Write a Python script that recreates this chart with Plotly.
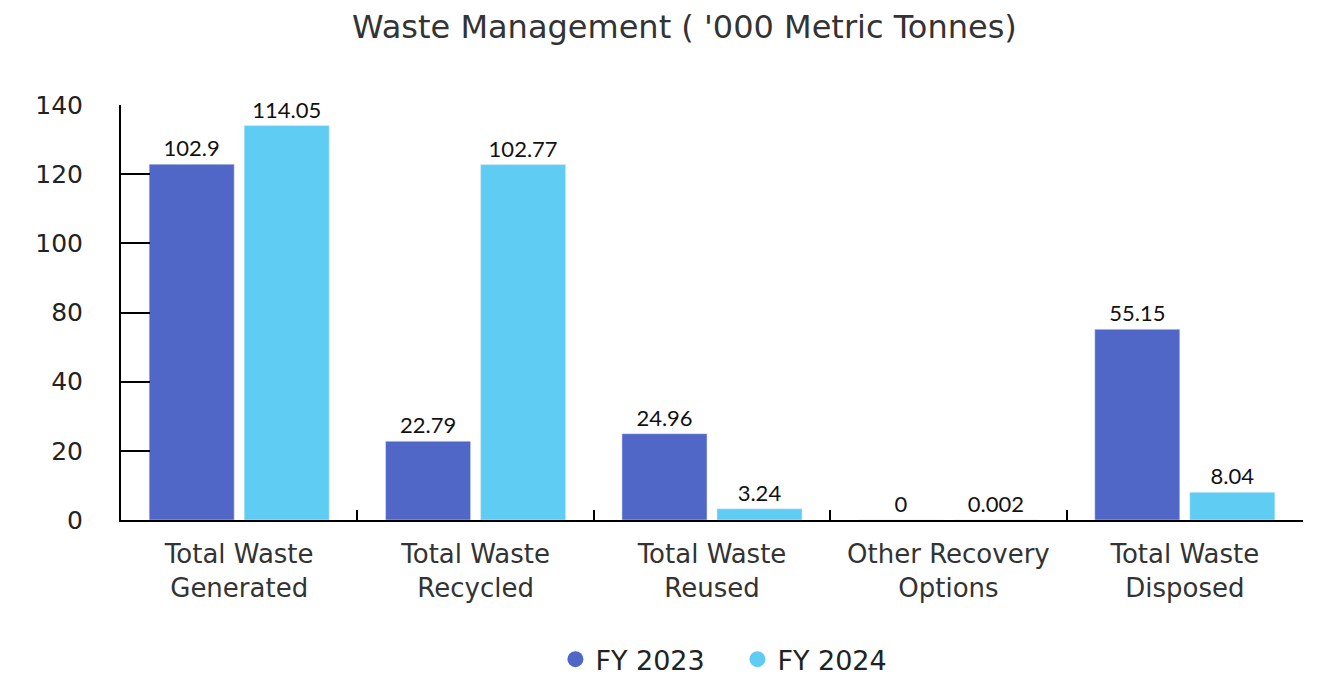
import plotly.graph_objects as go

categories = ["Total Waste<br>Generated", "Total Waste<br>Recycled", "Total Waste<br>Reused",
              "Other Recovery<br>Options", "Total Waste<br>Disposed"]
fy2023 = [102.9, 22.79, 24.96, 0, 55.15]
fy2024 = [114.05, 102.77, 3.24, 0.002, 8.04]
labels2023 = ["102.9", "22.79", "24.96", "0", "55.15"]
labels2024 = ["114.05", "102.77", "3.24", "0.002", "8.04"]
tick_vals = [0, 20, 40, 60, 80, 100, 120]
tick_text = ["0", "20", "40", "80", "100", "120", "140"]

c23 = "#5067C8"
c24 = "#5FCDF3"
main_font = "DejaVu Sans, Open Sans, sans-serif"
lab_font = dict(family="Lato, Open Sans, sans-serif", size=22, color="#111111")

fig = go.Figure()
fig.add_trace(go.Bar(name="FY 2023", x=categories, y=fy2023, text=labels2023,
                     textposition="outside", textfont=lab_font, marker_color=c23,
                     cliponaxis=False, showlegend=False))
fig.add_trace(go.Bar(name="FY 2024", x=categories, y=fy2024, text=labels2024,
                     textposition="outside", textfont=lab_font, marker_color=c24,
                     cliponaxis=False, showlegend=False))
# legend entries with round markers
fig.add_trace(go.Scatter(name="FY 2023", x=[None], y=[None], mode="markers",
                         marker=dict(symbol="circle", size=17, color=c23)))
fig.add_trace(go.Scatter(name="FY 2024", x=[None], y=[None], mode="markers",
                         marker=dict(symbol="circle", size=17, color=c24)))

fig.update_layout(
    width=1311, height=667,
    paper_bgcolor="white", plot_bgcolor="white",
    margin=dict(l=113, r=16, t=97, b=155),
    barmode="group", bargap=0.196, bargroupgap=0.105,
    title=dict(text="Waste Management ( '000 Metric Tonnes)", x=0.516, xanchor="center",
               y=0.9715, yanchor="middle",
               font=dict(family=main_font, size=32, color="#333333")),
    font=dict(family=main_font, color="#222222"),
    showlegend=True,
    legend=dict(orientation="h", x=0.5215, xanchor="center", yref="container",
                y=0.023, yanchor="middle", entrywidth=137,
                font=dict(size=27, color="#222222"), itemwidth=30),
)
fig.update_xaxes(showline=True, linecolor="black", linewidth=2, ticks="inside",
                 tickson="boundaries", ticklen=10, tickwidth=2, tickcolor="black",
                 tickfont=dict(size=26, color="#333333"), showgrid=False, automargin=False,
                 ticklabelstandoff=10)
fig.update_yaxes(range=[0, 120], showline=True, linecolor="black", linewidth=2,
                 ticks="inside", ticklen=29, tickwidth=2, tickcolor="black",
                 tickvals=tick_vals, ticktext=tick_text, showgrid=False, zeroline=False,
                 tickfont=dict(size=25, color="#222222"), ticklabelstandoff=31,
                 automargin=False)

fig.write_html("out.html")
